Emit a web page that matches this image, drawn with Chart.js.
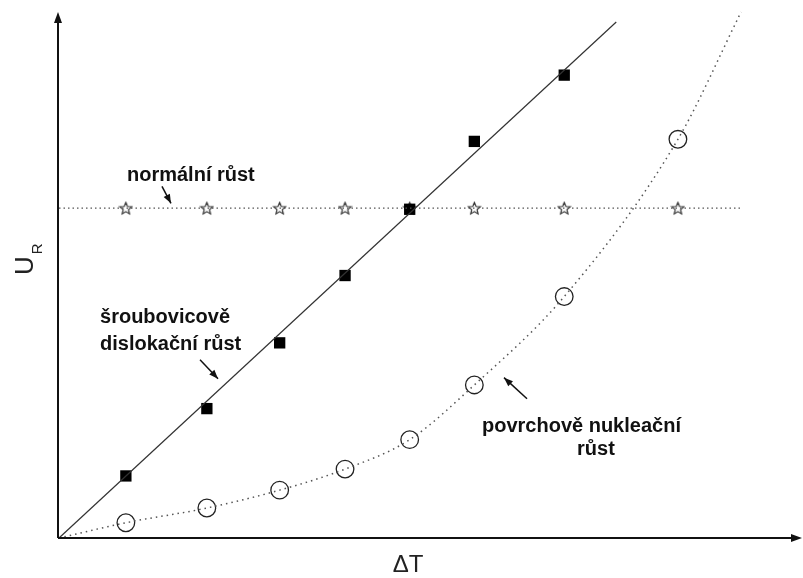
<!DOCTYPE html>
<html>
<head>
<meta charset="utf-8">
<script src="https://cdn.jsdelivr.net/npm/chart.js@4/dist/chart.umd.min.js"></script>
<style>
html,body{margin:0;padding:0;background:#fff;}
#wrap{width:803px;height:578px;}
canvas{display:block;}
</style>
</head>
<body>
<div id="wrap"><canvas id="c" width="803" height="578"></canvas></div>
<script>
// ---- data ----
const deltaT = [0.90, 1.99, 2.97, 3.85, 4.72, 5.59, 6.80, 8.33];
const screwGrowth = [1.18, 2.46, 3.71, 4.99, 6.25, 7.54, 8.80];
const normalGrowth = [6.27, 6.27, 6.27, 6.27, 6.27, 6.27, 6.27, 6.27];
const nucleationGrowth = [0.29, 0.57, 0.91, 1.31, 1.87, 2.91, 4.59, 7.58];
const screwLineT = [0, 7.50];
const screwLineU = [0, 9.81];
const normalLineT = [0, 9.17];
const normalLineU = [6.27, 6.27];
const nucleationCurveT = [0, 0.90, 1.99, 2.97, 3.85, 4.72, 5.59, 6.80, 8.33, 9.18];
const nucleationCurveU = [0, 0.29, 0.57, 0.91, 1.31, 1.87, 2.91, 4.59, 7.58, 10.0];
const xTitle = 'ΔT';
const yTitle = 'U';
const yTitleSub = 'R';
const labels = [
  {lines: ['normální růst'], x: 0.915, y: 6.78},
  {lines: ['šroubovicově', 'dislokační růst'], x: 0.552, y: 4.095},
  {lines: ['povrchově nukleační'], x: 5.693, y: 2.019},
  {lines: ['růst'], x: 6.972, y: 1.581}
];
const arrows = [
  {from: [1.386, 6.686], to: [1.507, 6.362]},
  {from: [1.898, 3.390], to: [2.140, 3.029]},
  {from: [6.299, 2.648], to: [5.989, 3.048]}
];

const pts = (xs, ys) => xs.map((x, i) => ({x: x, y: ys[i]}));

// star marker
const star = document.createElement('canvas');
star.width = 15; star.height = 15;
(function(){
  const g = star.getContext('2d');
  g.strokeStyle = '#222'; g.lineWidth = 1.1;
  g.beginPath();
  for (let i = 0; i < 10; i++) {
    const r = i % 2 === 0 ? 6.3 : 2.8;
    const a = -Math.PI/2 + i * Math.PI/5;
    const px = 7.5 + r*Math.cos(a), py = 8 + r*Math.sin(a);
    if (i === 0) g.moveTo(px, py); else g.lineTo(px, py);
  }
  g.closePath(); g.stroke();
})();

function arrowHead(ctx, x1, y1, x2, y2, len, half) {
  const a = Math.atan2(y2 - y1, x2 - x1);
  ctx.beginPath();
  ctx.moveTo(x2, y2);
  ctx.lineTo(x2 - len*Math.cos(a) + half*Math.sin(a), y2 - len*Math.sin(a) - half*Math.cos(a));
  ctx.lineTo(x2 - len*Math.cos(a) - half*Math.sin(a), y2 - len*Math.sin(a) + half*Math.cos(a));
  ctx.closePath();
  ctx.fill();
}

const decor = {
  id: 'decor',
  afterDatasetsDraw(chart) {
    const ctx = chart.ctx, a = chart.chartArea;
    const xs = chart.scales.x, ys = chart.scales.y;
    ctx.save();
    // axes
    ctx.strokeStyle = '#111'; ctx.fillStyle = '#111'; ctx.lineWidth = 2;
    ctx.beginPath();
    ctx.moveTo(a.left - 1, a.bottom); ctx.lineTo(a.right - 6, a.bottom);
    ctx.moveTo(a.left - 1, a.bottom); ctx.lineTo(a.left - 1, a.top + 6);
    ctx.stroke();
    arrowHead(ctx, a.left - 1, a.bottom, a.left - 1, a.top, 11, 4);
    arrowHead(ctx, a.left, a.bottom, a.right, a.bottom, 11, 4);
    // annotations
    ctx.fillStyle = '#111';
    ctx.font = 'bold 20px "Liberation Sans", Arial, sans-serif';
    ctx.textBaseline = 'alphabetic'; ctx.textAlign = 'left';
    labels.forEach(l => {
      l.lines.forEach((t, i) => {
        ctx.fillText(t, xs.getPixelForValue(l.x), ys.getPixelForValue(l.y) + i*27);
      });
    });
    ctx.lineWidth = 1.5; ctx.strokeStyle = '#111';
    arrows.forEach(ar => {
      const x1 = xs.getPixelForValue(ar.from[0]), y1 = ys.getPixelForValue(ar.from[1]);
      const x2 = xs.getPixelForValue(ar.to[0]), y2 = ys.getPixelForValue(ar.to[1]);
      ctx.beginPath(); ctx.moveTo(x1, y1); ctx.lineTo(x2, y2); ctx.stroke();
      arrowHead(ctx, x1, y1, x2, y2, 9, 3.5);
    });
    // axis titles
    ctx.fillStyle = '#222';
    ctx.font = '24px "Liberation Sans", Arial, sans-serif';
    ctx.textAlign = 'center'; ctx.textBaseline = 'alphabetic';
    ctx.fillText(xTitle, 408, 572);
    ctx.save();
    ctx.translate(33, 275);
    ctx.rotate(-Math.PI/2);
    ctx.textAlign = 'left';
    ctx.font = '26px "Liberation Sans", Arial, sans-serif';
    ctx.fillText(yTitle, 0, 0);
    const w = ctx.measureText(yTitle).width;
    ctx.font = '15px "Liberation Sans", Arial, sans-serif';
    ctx.fillText(yTitleSub, w + 2, 9);
    ctx.restore();
    ctx.restore();
  }
};

new Chart(document.getElementById('c'), {
  type: 'scatter',
  data: {
    datasets: [
      {data: pts(screwLineT, screwLineU), showLine: true, borderColor: '#333', borderWidth: 1.2, pointRadius: 0, clip: false},
      {data: pts(normalLineT, normalLineU), showLine: true, borderColor: '#555', borderWidth: 1.3, borderDash: [1.5, 3], pointRadius: 0, clip: false},
      {data: pts(nucleationCurveT, nucleationCurveU), showLine: true, borderColor: '#555', borderWidth: 1.5, borderDash: [1.5, 4], cubicInterpolationMode: 'monotone', pointRadius: 0, clip: false},
      {data: pts(deltaT.slice(0, screwGrowth.length), screwGrowth), pointStyle: 'rect', pointRadius: 8, backgroundColor: '#000', borderColor: '#000', borderWidth: 0, clip: false},
      {data: pts(deltaT, normalGrowth), pointStyle: star, pointRadius: 7, clip: false},
      {data: pts(deltaT, nucleationGrowth), pointStyle: 'circle', pointRadius: 8.8, backgroundColor: 'rgba(0,0,0,0)', borderColor: '#222', borderWidth: 1.3, clip: false}
    ]
  },
  options: {
    responsive: false,
    animation: false,
    layout: {autoPadding: false, padding: {left: 59, top: 12, right: 1, bottom: 40}},
    scales: {
      x: {type: 'linear', min: 0, max: 10, display: false},
      y: {type: 'linear', min: 0, max: 10, display: false}
    },
    plugins: {legend: {display: false}, tooltip: {enabled: false}},
    elements: {line: {tension: 0}}
  },
  plugins: [decor]
});
</script>
</body>
</html>
